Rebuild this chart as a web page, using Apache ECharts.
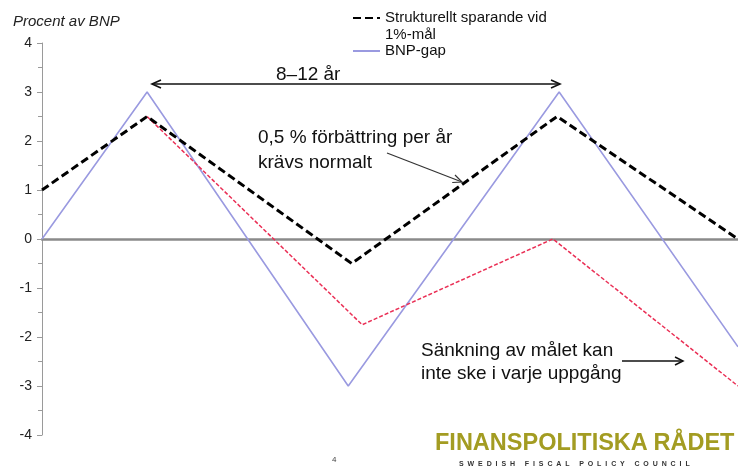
<!DOCTYPE html>
<html><head><meta charset="utf-8">
<script src="https://cdn.jsdelivr.net/npm/echarts@6/dist/echarts.min.js"></script>
<style>
html,body{margin:0;padding:0;background:#fff}
#wrap{position:relative;width:738px;height:473px}
#c{width:738px;height:473px}
#logo{position:absolute;left:435px;top:431px;font-family:"Liberation Sans",Arial,sans-serif;font-weight:bold;font-size:23.5px;line-height:1;color:#a39c22;white-space:nowrap}
#sub{position:absolute;left:459px;top:460px;font-family:"Liberation Sans",Arial,sans-serif;font-weight:bold;font-size:7px;line-height:1;letter-spacing:3.9px;color:#333;white-space:nowrap}
</style>
</head><body>
<div id="wrap"><div id="c"></div>
<div id="logo">FINANSPOLITISKA RÅDET</div>
<div id="sub">SWEDISH FISCAL POLICY COUNCIL</div>
</div>
<script>
// Data (x in arbitrary time units 0..100 across the plot)
const strukX = [0, 15.1, 44.5, 74, 100];
const strukY = [1, 2.5, -0.5, 2.5, 0];
const gapX = [0, 15.1, 44, 74.3, 100];
const gapY = [0, 3, -3, 3, -2.2];
const lowX = [15.1, 46, 73.4, 100];
const lowY = [2.5, -1.75, 0, -3];
const yMin = -4, yMax = 4, yStep = 1;
const seriesNames = ['Strukturellt sparande vid\n1%-mål', 'BNP-gap'];
const axisTitle = 'Procent av BNP';
const notes = {
  span: '8–12 år',
  improve: '0,5 % förbättring per år\nkrävs normalt',
  lower: 'Sänkning av målet kan\ninte ske i varje uppgång',
  page: '4'
};

const zip = (xs, ys) => xs.map((x, i) => [x, ys[i]]);
const FONT = '"Liberation Sans", Arial, sans-serif';

const chart = echarts.init(document.getElementById('c'), null, {renderer: 'canvas'});
chart.setOption({
  animation: false,
  backgroundColor: '#fff',
  textStyle: {fontFamily: FONT},
  title: {
    text: axisTitle, left: 13, top: 14, padding: 0,
    textStyle: {fontSize: 15, fontStyle: 'italic', fontWeight: 'normal', color: '#222', fontFamily: FONT}
  },
  legend: [{
    data: [seriesNames[0]], left: 352, top: -7.5, padding: 0,
    itemWidth: 27, itemHeight: 14,
    itemStyle: {opacity: 0},
    formatter: n => '\n' + n,
    textStyle: {fontSize: 15, lineHeight: 17, color: '#111', fontFamily: FONT}
  }, {
    data: [seriesNames[1]], left: 352, top: 42.5, padding: 0,
    itemWidth: 27, itemHeight: 14,
    itemStyle: {opacity: 0},
    textStyle: {fontSize: 15, lineHeight: 17, color: '#111', fontFamily: FONT}
  }],
  grid: {left: 42, right: 0, top: 43, bottom: 38, containLabel: false},
  xAxis: {
    type: 'value', min: 0, max: 100,
    axisLine: {show: true, onZero: true, lineStyle: {color: '#8a8a8a', width: 2.5}},
    axisTick: {show: false}, axisLabel: {show: false}, splitLine: {show: false}
  },
  yAxis: {
    type: 'value', min: yMin, max: yMax, interval: yStep,
    axisLine: {show: true, lineStyle: {color: '#9a9a9a', width: 1}},
    axisTick: {show: true, inside: false, length: 5, lineStyle: {color: '#9a9a9a'}},
    minorTick: {show: true, splitNumber: 2, length: 4, lineStyle: {color: '#9a9a9a'}},
    axisLabel: {fontSize: 14, color: '#222', margin: 10, fontFamily: FONT},
    splitLine: {show: false}
  },
  series: [{
    name: seriesNames[1], type: 'line', data: zip(gapX, gapY),
    showSymbol: false, symbol: 'none', z: 2,
    lineStyle: {color: '#9a9ae0', width: 1.6}, itemStyle: {color: '#9a9ae0'}
  }, {
    name: 'Sänkning', type: 'line', data: zip(lowX, lowY),
    showSymbol: false, symbol: 'none', z: 3,
    lineStyle: {color: '#ea2f55', width: 1.5, type: [4, 2]}, itemStyle: {color: '#ea2f55'}
  }, {
    name: seriesNames[0], type: 'line', data: zip(strukX, strukY),
    showSymbol: false, symbol: 'none', z: 4,
    lineStyle: {color: '#000', width: 3, type: [8, 4]}, itemStyle: {color: '#000'}
  }],
  graphic: [
    {type: 'text', left: 276, top: 65, style: {text: notes.span, fontSize: 19, fill: '#111', fontFamily: FONT}},
    {type: 'line', shape: {x1: 152, y1: 84, x2: 560, y2: 84}, style: {stroke: '#111', lineWidth: 1.6}},
    {type: 'polyline', shape: {points: [[161, 80], [152, 84], [161, 88]]}, style: {stroke: '#111', lineWidth: 1.6, fill: null}},
    {type: 'polyline', shape: {points: [[551, 80], [560, 84], [551, 88]]}, style: {stroke: '#111', lineWidth: 1.6, fill: null}},
    {type: 'text', left: 258, top: 125, style: {text: notes.improve, fontSize: 19, lineHeight: 25, fill: '#111', fontFamily: FONT}},
    {type: 'line', shape: {x1: 387, y1: 153, x2: 462, y2: 182}, style: {stroke: '#333', lineWidth: 1.2}},
    {type: 'polyline', shape: {points: [[452.2, 182.5], [462, 182], [455, 175]]}, style: {stroke: '#333', lineWidth: 1.2, fill: null}},
    {type: 'text', left: 421, top: 339, style: {text: notes.lower, fontSize: 19, lineHeight: 23, fill: '#111', fontFamily: FONT}},
    {type: 'line', shape: {x1: 622, y1: 361, x2: 683, y2: 361}, style: {stroke: '#111', lineWidth: 1.5}},
    {type: 'polyline', shape: {points: [[675, 357], [683, 361], [675, 365]]}, style: {stroke: '#111', lineWidth: 1.5, fill: null}},
    {type: 'text', left: 332, top: 456, style: {text: notes.page, fontSize: 8, fill: '#444', fontFamily: FONT}}
  ]
});
</script>
</body></html>
